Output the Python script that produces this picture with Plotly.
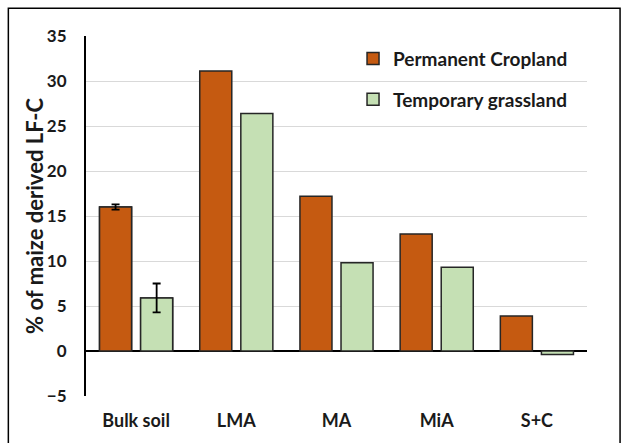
import plotly.graph_objects as go

categories = ["Bulk soil", "LMA", "MA", "MiA", "S+C"]
permanent_cropland = [16.0, 31.1, 17.2, 13.0, 3.9]
temporary_grassland = [5.9, 26.4, 9.8, 9.3, -0.4]
# standard errors are only available for the bulk soil samples
err_category = ["Bulk soil"]
permanent_err = [0.3]
temporary_err = [1.6]
y_ticks = [-5, 0, 5, 10, 15, 20, 25, 30, 35]

FONT = "Lato"
OUTLINE = "#262626"
TEXT = "#1a1a1a"
PC_COLOR = "#C55A11"
TG_COLOR = "#C5E0B4"

fig = go.Figure()
fig.add_trace(go.Bar(
    x=categories, y=permanent_cropland, name="Permanent Cropland",
    legendgroup="pc", offsetgroup="pc",
    marker=dict(color=PC_COLOR, line=dict(color=OUTLINE, width=1.5)),
))
fig.add_trace(go.Bar(
    x=categories, y=temporary_grassland, name="Temporary grassland",
    legendgroup="tg", offsetgroup="tg",
    marker=dict(color=TG_COLOR, line=dict(color=OUTLINE, width=1.5)),
))

# error bars on the bulk soil bars, drawn in the same offset slots
bulk_pc = [permanent_cropland[categories.index(c)] for c in err_category]
bulk_tg = [temporary_grassland[categories.index(c)] for c in err_category]
fig.add_trace(go.Bar(
    x=err_category, y=bulk_pc, offsetgroup="pc", showlegend=False, hoverinfo="skip",
    marker=dict(color=PC_COLOR, line=dict(color=OUTLINE, width=1.5)),
    error_y=dict(type="data", array=permanent_err, color="black", thickness=1.8, width=4),
))
fig.add_trace(go.Bar(
    x=err_category, y=bulk_tg, offsetgroup="tg", showlegend=False, hoverinfo="skip",
    marker=dict(color=TG_COLOR, line=dict(color=OUTLINE, width=1.5)),
    error_y=dict(type="data", array=temporary_err, color="black", thickness=1.8, width=4),
))

# outer chart frame
fig.add_shape(type="rect", xref="paper", yref="paper",
              x0=-0.155, x1=1.066, y0=-0.2, y1=1.077,
              line=dict(color="black", width=1.5), fillcolor="rgba(0,0,0,0)", layer="below")

# y-axis title
fig.add_annotation(text="% of maize derived LF-C", xref="paper", yref="paper",
                   x=-0.104, y=0.5, xanchor="center", yanchor="middle",
                   textangle=-90, showarrow=False,
                   font=dict(family=FONT, size=22, color=TEXT, weight="bold"))

fig.update_layout(
    width=621, height=443,
    margin=dict(l=86, r=34, t=36, b=45),
    paper_bgcolor="white", plot_bgcolor="white",
    font=dict(family=FONT, color=TEXT),
    barmode="group", bargap=0.18, bargroupgap=0.22,
    showlegend=True,
    legend=dict(x=0.533, y=0.99, xanchor="left", yanchor="top",
                font=dict(family=FONT, size=19, color=TEXT, weight="bold"),
                bgcolor="rgba(0,0,0,0)", traceorder="grouped", tracegroupgap=13),
    xaxis=dict(showgrid=False, showline=False, ticks="", ticklabelstandoff=12,
               tickfont=dict(family=FONT, size=18, color=TEXT, weight="bold")),
    yaxis=dict(range=[-5, 35], tickvals=y_ticks, showgrid=True, gridcolor="#d9d9d9",
               gridwidth=1, showline=True, linecolor="black", linewidth=2,
               zeroline=True, zerolinecolor="black", zerolinewidth=1.5,
               ticks="", ticklabelstandoff=14,
               tickfont=dict(family=FONT, size=17, color=TEXT, weight="bold")),
)

fig.write_html("out.html")
